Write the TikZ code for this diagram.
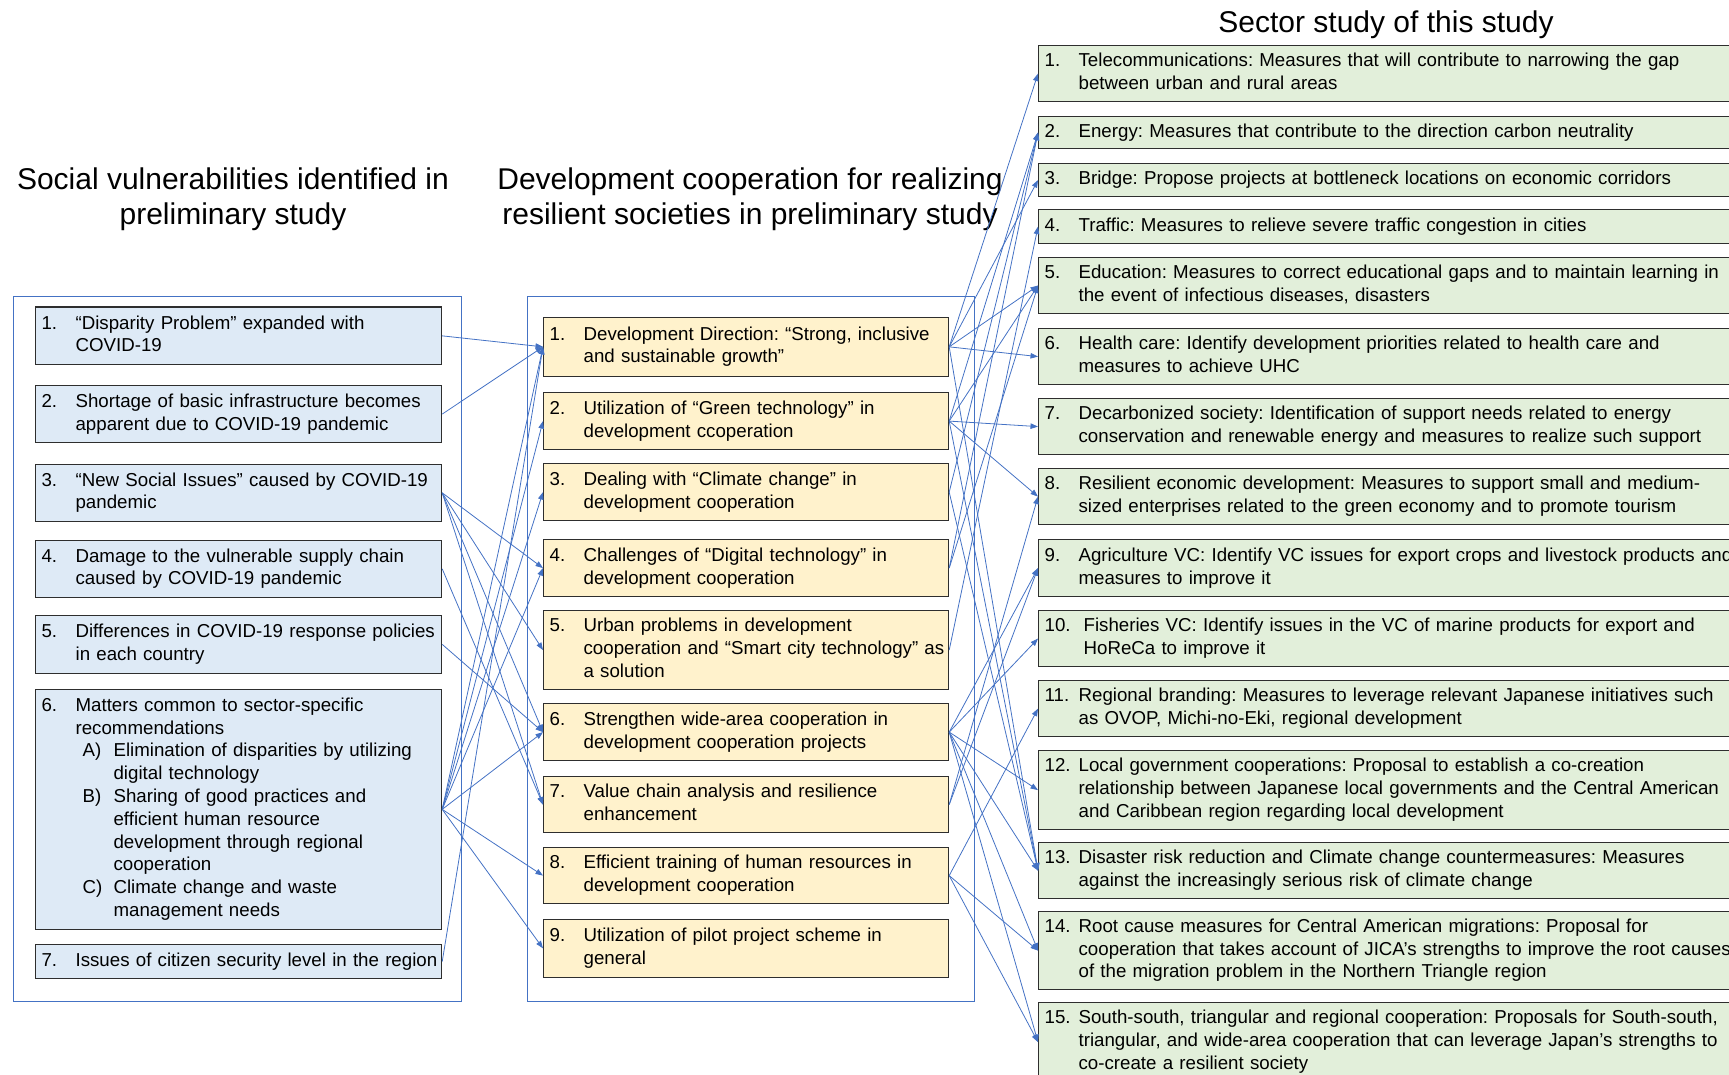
\documentclass[tikz,border=0pt]{standalone}
\usepackage{fontspec}
\setmainfont{Liberation Sans}
\usetikzlibrary{arrows.meta}
\frenchspacing
\definecolor{lblue}{HTML}{DEEAF6}
\definecolor{lyellow}{HTML}{FFF2CC}
\definecolor{lgreen}{HTML}{E2EFDA}
\definecolor{frameblue}{HTML}{4472C4}
\definecolor{arrowblue}{HTML}{4472C4}
\definecolor{boxline}{HTML}{2E2E2E}
\newcommand{\boxfont}{\fontsize{18.7}{22.8}\selectfont\frenchspacing}
\newcommand{\titlefont}{\fontsize{30}{35.3}\selectfont}
\newcommand{\itm}[3][34pt]{\makebox[#1][l]{#2}\begin{tabular}[t]{@{}l@{}}#3\end{tabular}}
\newcommand{\sub}[2]{\hspace{7pt}\makebox[31pt][l]{#1}\begin{tabular}[t]{@{}l@{}}#2\end{tabular}}
\tikzset{
  bx/.style={draw=boxline, line width=1.2pt, anchor=north west, inner xsep=6pt, inner ysep=0pt, align=left, font=\boxfont},
  lbx/.style={bx, fill=lblue, text width=394pt},
  mbx/.style={bx, fill=lyellow, text width=393pt},
  rbx/.style={bx, fill=lgreen, text width=708pt},
  frm/.style={draw=frameblue, line width=1pt},
  ttl/.style={font=\titlefont, align=center, anchor=center},
  arr/.style={draw=arrowblue, line width=0.8pt, -{Triangle[length=7.5pt,width=5.5pt]}}
}
\begin{document}
\begin{tikzpicture}[x=1pt,y=-1pt]
\useasboundingbox (0,0) rectangle (1729,1075);
% titles
\node[ttl] (t1) at (233,199.5) {Social vulnerabilities identified in\\preliminary study};
\node[ttl] (t2) at (750,199.5) {Development cooperation for realizing\\resilient societies in preliminary study};
\node[ttl] (t3) at (1386,25) {Sector study of this study};
% frames
\draw[frm] (13,297) rectangle (461,1001);
\draw[frm] (527,297) rectangle (974,1001);
% left boxes
\node[lbx, minimum height=57.5pt] (l1) at (35,306.5) {\itm{1.}{“Disparity Problem” expanded with\\COVID-19}};
\node[lbx, minimum height=57pt] (l2) at (35,385) {\itm{2.}{Shortage of basic infrastructure becomes\\apparent due to COVID-19 pandemic}};
\node[lbx, minimum height=56.5pt] (l3) at (35,464) {\itm{3.}{“New Social Issues” caused by COVID-19\\pandemic}};
\node[lbx, minimum height=56.5pt] (l4) at (35,540) {\itm{4.}{Damage to the vulnerable supply chain\\caused by COVID-19 pandemic}};
\node[lbx, minimum height=57.5pt] (l5) at (35,615) {\itm{5.}{Differences in COVID-19 response policies\\in each country}};
\node[lbx, minimum height=239.5pt] (l6) at (35,689) {\itm{6.}{Matters common to sector-specific\\recommendations\\
\sub{A)}{Elimination of disparities by utilizing\\digital technology}\\
\sub{B)}{Sharing of good practices and\\efficient human resource\\development through regional\\cooperation}\\
\sub{C)}{Climate change and waste\\management needs}}};
\node[lbx, minimum height=34pt] (l7) at (35,944) {\itm{7.}{Issues of citizen security level in the region}};
% middle boxes
\node[mbx, minimum height=59.5pt] (m1) at (543,316.5) {\itm{1.}{Development Direction: “Strong, inclusive\\and sustainable growth”}};
\node[mbx, minimum height=57pt] (m2) at (543,392) {\itm{2.}{Utilization of “Green technology” in\\development ccoperation}};
\node[mbx, minimum height=57pt] (m3) at (543,463) {\itm{3.}{Dealing with “Climate change” in\\development cooperation}};
\node[mbx, minimum height=57pt] (m4) at (543,539) {\itm{4.}{Challenges of “Digital technology” in\\development cooperation}};
\node[mbx, minimum height=79pt] (m5) at (543,610) {\itm{5.}{Urban problems in development\\cooperation and “Smart city technology” as\\a solution}};
\node[mbx, minimum height=57pt] (m6) at (543,703) {\itm{6.}{Strengthen wide-area cooperation in\\development cooperation projects}};
\node[mbx, minimum height=56pt] (m7) at (543,776) {\itm{7.}{Value chain analysis and resilience\\enhancement}};
\node[mbx, minimum height=56pt] (m8) at (543,847) {\itm{8.}{Efficient training of human resources in\\development cooperation}};
\node[mbx, minimum height=58.5pt] (m9) at (543,918.5) {\itm{9.}{Utilization of pilot project scheme in\\general}};
% right boxes
\node[rbx, minimum height=56pt] (r1) at (1038,45) {\itm{1.}{Telecommunications: Measures that will contribute to narrowing the gap\\between urban and rural areas}};
\node[rbx, minimum height=32pt] (r2) at (1038,116) {\itm{2.}{Energy: Measures that contribute to the direction carbon neutrality}};
\node[rbx, minimum height=33pt] (r3) at (1038,163) {\itm{3.}{Bridge: Propose projects at bottleneck locations on economic corridors}};
\node[rbx, minimum height=34pt] (r4) at (1038,209) {\itm{4.}{Traffic: Measures to relieve severe traffic congestion in cities}};
\node[rbx, minimum height=56pt] (r5) at (1038,257) {\itm{5.}{Education: Measures to correct educational gaps and to maintain learning in\\the event of infectious diseases, disasters}};
\node[rbx, minimum height=56pt] (r6) at (1038,328) {\itm{6.}{Health care: Identify development priorities related to health care and\\measures to achieve UHC}};
\node[rbx, minimum height=56pt] (r7) at (1038,398) {\itm{7.}{Decarbonized society: Identification of support needs related to energy\\conservation and renewable energy and measures to realize such support}};
\node[rbx, minimum height=56pt] (r8) at (1038,468) {\itm{8.}{Resilient economic development: Measures to support small and medium-\\sized enterprises related to the green economy and to promote tourism}};
\node[rbx, minimum height=57pt] (r9) at (1038,539) {\itm{9.}{Agriculture VC: Identify VC issues for export crops and livestock products and\\measures to improve it}};
\node[rbx, minimum height=56pt] (r10) at (1038,610) {\itm[39pt]{10.}{Fisheries VC: Identify issues in the VC of marine products for export and\\HoReCa to improve it}};
\node[rbx, minimum height=56pt] (r11) at (1038,680) {\itm{11.}{Regional branding: Measures to leverage relevant Japanese initiatives such\\as OVOP, Michi-no-Eki, regional development}};
\node[rbx, minimum height=79pt] (r12) at (1038,750) {\itm{12.}{Local government cooperations: Proposal to establish a co-creation\\relationship between Japanese local governments and the Central American\\and Caribbean region regarding local development}};
\node[rbx, minimum height=56pt] (r13) at (1038,842) {\itm{13.}{Disaster risk reduction and Climate change countermeasures: Measures\\against the increasingly serious risk of climate change}};
\node[rbx, minimum height=78pt] (r14) at (1038,911) {\itm{14.}{Root cause measures for Central American migrations: Proposal for\\cooperation that takes account of JICA's strengths to improve the root causes\\of the migration problem in the Northern Triangle region}};
\node[rbx, minimum height=79pt] (r15) at (1038,1002) {\itm{15.}{South-south, triangular and regional cooperation: Proposals for South-south,\\triangular, and wide-area cooperation that can leverage Japan's strengths to\\co-create a resilient society}};
% left -> middle
\foreach \a/\b in {l1/m1,l2/m1,l3/m4,l3/m5,l3/m6,l3/m7,l4/m7,l5/m6,l6/m1,l6/m2,l6/m3,l6/m4,l6/m6,l6/m8,l6/m9,l7/m1}
  \draw[arr] (\a.east) -- (\b.west);
% middle -> right
\foreach \a/\b in {m1/r1,m1/r3,m1/r5,m1/r6,m1/r13,m2/r2,m2/r5,m2/r7,m2/r8,m2/r13,m3/r2,m3/r13,m4/r2,m4/r5,m5/r4,m6/r9,m6/r10,m6/r12,m6/r13,m6/r14,m6/r15,m7/r8,m7/r9,m8/r11,m8/r14,m8/r15}
  \draw[arr] (\a.east) -- (\b.west);
\end{tikzpicture}
\end{document}
